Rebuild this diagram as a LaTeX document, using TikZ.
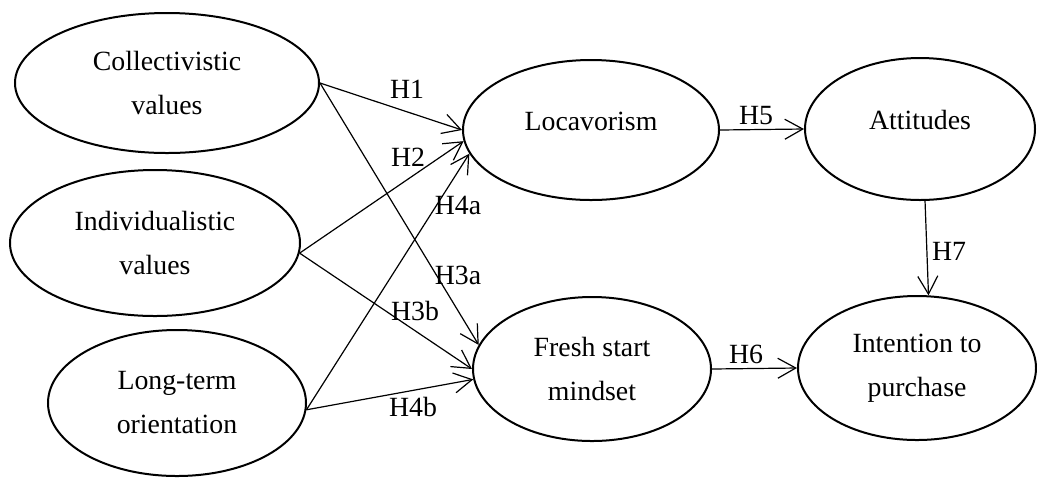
\documentclass[tikz,border=0pt]{standalone}
\usepackage{fontspec}
\setmainfont{Liberation Serif}
\usetikzlibrary{shapes.geometric,arrows.meta}

\begin{document}
\begin{tikzpicture}[x=0.5pt, y=-0.5pt]
		\tikzstyle{every node}=[align=center, inner sep=0pt, font=\fontsize{13.9}{22}\selectfont]
		\tikzstyle{construct}=[draw, ellipse, line width=1pt]
		\tikzstyle{oneline}=[text height=0.68em, text depth=0.68em]
		\tikzstyle{hyp}=[-{Straight Barb[length=9pt, width=10pt]}, line width=0.6pt]
		\useasboundingbox (0,0) rectangle (1037,478);

		\node[construct, minimum width=152pt, minimum height=70pt] (coll) at (167, 83) {Collectivistic\\values};
		\node[construct, minimum width=145pt, minimum height=73pt] (indiv) at (155, 243) {Individualistic\\values};
		\node[construct, minimum width=129pt, minimum height=73pt] (lto) at (177, 403) {Long-term\\orientation};
		\node[construct, oneline, minimum width=128pt, minimum height=70pt] (locav) at (591, 130) {Locavorism};
		\node[construct, minimum width=119pt, minimum height=72pt] (fresh) at (592, 369) {Fresh start\\mindset};
		\node[construct, oneline, minimum width=115pt, minimum height=71pt] (att) at (920, 129) {Attitudes};
		\node[construct, minimum width=119pt, minimum height=72pt] (intent) at (917, 368) {Intention to\\purchase};

		\node (h1) at (407, 89) {H1};
		\node (h2) at (408, 157) {H2};
		\node (h4a) at (458, 205) {H4a};
		\node (h3a) at (458, 275) {H3a};
		\node (h3b) at (415, 311) {H3b};
		\node (h4b) at (413, 407) {H4b};
		\node (h5) at (756, 116) {H5};
		\node (h6) at (746, 354) {H6};
		\node (h7) at (949, 251) {H7};

		\draw [hyp] (coll.east) -- (locav.west);
		\draw [hyp] (coll.east) -- (fresh.168);
		\draw [hyp] (indiv.356) -- (locav.185);
		\draw [hyp] (indiv.356) -- (fresh.west);
		\draw [hyp] (lto.357) -- (locav.191);
		\draw [hyp] (lto.357) -- (fresh.185);
		\draw [hyp] (locav.east) -- (att.west);
		\draw [hyp] (fresh.east) -- (intent.west);
		\draw [hyp] (att.274) -- (intent.81);
	\end{tikzpicture}
\end{document}
